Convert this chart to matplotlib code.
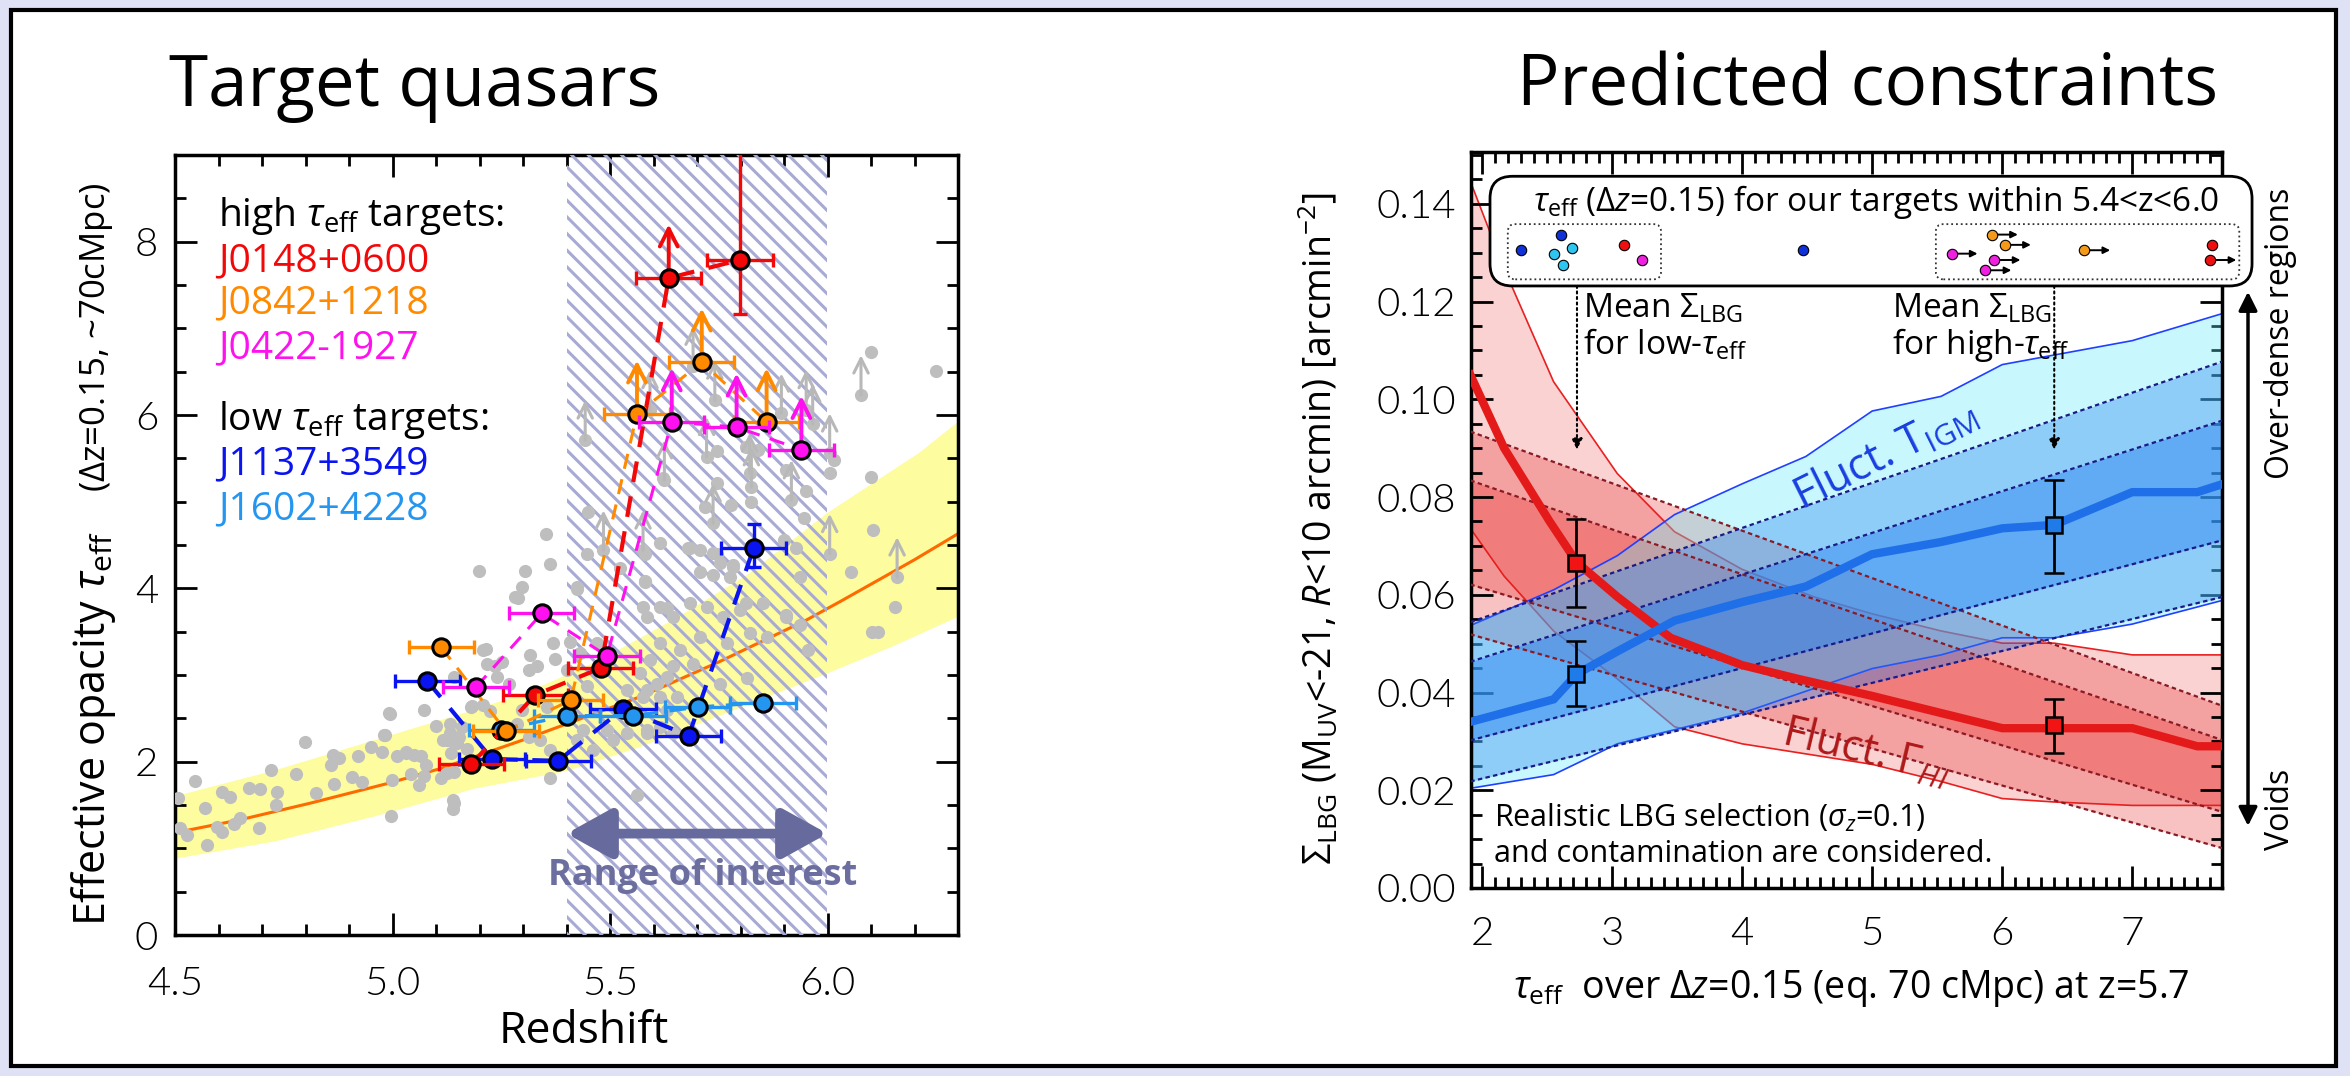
import matplotlib.pyplot as plt
from matplotlib.patches import Rectangle, FancyBboxPatch
from matplotlib.ticker import MultipleLocator, FormatStrFormatter

plt.rcParams['font.family'] = ['Open Sans', 'DejaVu Sans']
plt.rcParams['mathtext.fontset'] = 'custom'
plt.rcParams['mathtext.rm'] = 'Open Sans'
plt.rcParams['mathtext.it'] = 'Open Sans:italic'
plt.rcParams['mathtext.bf'] = 'Open Sans:bold'
plt.rcParams['hatch.color'] = '#a7aad4'
plt.rcParams['hatch.linewidth'] = 2.2

# ---------------- left panel data (redshift, tau_eff) ----------------
gray_z = [4.506, 4.546, 4.511, 4.527, 4.569, 4.573, 4.609, 4.626, 4.596, 4.607,
          4.636, 4.650, 4.670, 4.696, 4.693, 4.720, 4.733, 4.735, 4.778, 4.798,
          4.825, 4.859, 4.863, 4.878, 4.865, 4.907, 4.930, 4.920, 4.951, 4.976,
          4.980, 4.993, 4.999, 4.997, 5.011, 5.031, 5.050, 5.066, 5.072, 5.043,
          5.062, 5.077, 5.073, 5.100, 5.112, 5.115, 5.133, 5.141, 5.154, 5.142,
          5.139, 5.139, 5.135, 5.171, 5.180,
          5.209, 5.217, 5.251, 5.316, 5.332, 5.370, 5.141, 5.240, 5.267, 5.209,
          5.183, 5.225, 5.297, 5.133, 5.160, 5.125, 5.148, 5.286, 5.313, 5.339,
          5.355, 5.362, 5.125, 5.362, 5.141, 5.561, 5.569, 5.592, 5.630, 5.538,
          5.584, 5.615, 5.446, 5.439, 5.423, 5.492, 5.538, 5.508, 5.584, 5.615,
          5.645, 5.462, 5.400, 5.431, 5.469,
          5.584, 5.615, 5.645, 5.684, 5.722, 5.760, 5.798, 5.852, 5.905, 5.936,
          5.955, 5.860, 5.821, 5.768, 5.707, 5.661, 5.615, 5.645, 5.691, 5.752,
          5.814, 5.607, 5.577, 5.653, 5.630, 5.584,
          6.100, 6.249, 6.016, 6.005, 6.100, 5.951, 5.947, 6.104, 6.054, 6.156,
          5.936, 5.901, 5.928, 5.745, 5.718, 5.779, 5.825, 5.745, 5.813, 5.840,
          5.905, 5.683, 5.706, 5.745, 5.783, 5.752, 5.706, 5.737, 5.775, 5.580,
          5.615, 5.580, 5.523, 5.813, 5.630, 5.576, 5.905, 6.103, 6.117,
          5.198, 5.305, 5.352, 5.288, 5.425, 5.362, 5.448, 5.408, 5.374, 5.314,
          5.236, 5.216, 4.995, 4.982, 5.030, 5.298, 5.282, 5.424, 5.450, 5.580,
          5.622, 5.679, 5.737, 5.783]
gray_tau = [1.58, 1.78, 1.23, 1.15, 1.46, 1.04, 1.65, 1.59, 1.25, 1.19,
            1.28, 1.35, 1.70, 1.69, 1.23, 1.90, 1.50, 1.65, 1.86, 2.23,
            1.64, 1.96, 2.08, 2.04, 1.74, 1.82, 1.77, 2.06, 2.17, 2.11,
            2.31, 2.56, 1.79, 1.37, 2.07, 2.10, 2.08, 2.06, 2.60, 1.86,
            1.73, 1.96, 1.83, 2.41, 1.81, 2.25, 2.33, 2.23, 2.29, 1.88,
            1.56, 1.45, 2.10, 2.15, 2.63,
            3.29, 3.13, 3.15, 3.23, 3.10, 3.37, 2.98, 2.98, 2.90, 2.65,
            2.64, 2.58, 2.60, 2.44, 2.40, 2.25, 2.21, 2.44, 2.29, 2.25,
            2.63, 2.13, 1.87, 1.81, 1.52, 1.62, 3.02, 3.17, 2.98, 2.83,
            2.83, 2.75, 2.87, 2.37, 2.25, 2.37, 2.33, 2.25, 2.37, 2.40,
            2.33, 2.13, 3.06, 3.25, 3.37,
            3.67, 3.79, 3.67, 3.83, 3.79, 3.67, 3.75, 3.83, 3.69, 3.58,
            3.29, 3.44, 3.48, 3.37, 3.44, 3.29, 3.37, 3.10, 3.13, 2.90,
            2.96, 2.90, 2.75, 2.75, 2.60, 2.33,
            6.73, 6.51, 5.48, 5.33, 5.29, 5.12, 4.81, 4.67, 4.19, 3.79,
            4.13, 4.56, 4.46, 5.21, 4.94, 4.96, 5.00, 5.58, 5.63, 5.60,
            5.37, 4.46, 4.44, 4.40, 4.25, 4.29, 4.19, 4.15, 4.13, 4.40,
            4.52, 4.08, 4.23, 3.83, 3.77, 3.79, 3.67, 3.50, 3.50,
            4.20, 4.20, 4.63, 3.89, 3.99, 4.28, 4.40, 3.38, 3.18, 3.06,
            3.10, 3.30, 2.55, 2.31, 2.11, 4.02, 3.90, 4.02, 4.88, 4.07,
            5.27, 4.47, 4.41, 4.27]

# gray lower limits
limit_z = [5.443, 5.485, 5.576, 5.592, 5.625, 5.691, 5.722, 5.737, 5.741, 5.821,
           5.825, 5.894, 5.917, 5.951, 5.966, 6.005, 6.005, 6.077, 6.160]
limit_tau = [5.71, 4.44, 4.44, 6.06, 5.25, 6.56, 5.52, 4.75, 6.17, 5.33,
             5.17, 6.02, 5.02, 6.06, 5.90, 5.56, 4.40, 6.23, 4.13]

fit_z = [4.50, 4.65, 4.81, 4.99, 5.11, 5.30, 5.57, 5.75, 5.95, 6.03, 6.20, 6.30]
fit_tau = [1.18, 1.33, 1.52, 1.75, 1.92, 2.25, 2.75, 3.15, 3.63, 3.85, 4.33, 4.63]
band_hi_z = [4.50, 4.73, 4.96, 5.19, 5.31, 5.48, 5.65, 5.82, 6.00, 6.21, 6.30]
band_hi = [1.60, 1.90, 2.25, 2.60, 2.80, 3.18, 3.65, 4.17, 4.87, 5.56, 5.92]
band_lo_z = [4.50, 4.73, 4.96, 5.19, 5.40, 5.57, 6.00, 6.15, 6.30]
band_lo = [0.88, 1.08, 1.37, 1.69, 1.89, 2.17, 3.02, 3.33, 3.67]

red_z = [5.181, 5.328, 5.479, 5.635, 5.799]
red_tau = [1.97, 2.77, 3.08, 7.58, 7.79]
red_lim = [0, 0, 0, 1, 0]
orange_z = [5.112, 5.261, 5.410, 5.562, 5.711, 5.860]
orange_tau = [3.32, 2.35, 2.71, 6.01, 6.61, 5.92]
orange_lim = [0, 0, 0, 1, 1, 1]
magenta_z = [5.192, 5.343, 5.493, 5.642, 5.791, 5.940]
magenta_tau = [2.86, 3.71, 3.22, 5.92, 5.86, 5.60]
magenta_lim = [0, 0, 0, 1, 1, 1]
blue_z = [5.080, 5.229, 5.381, 5.530, 5.681, 5.830]
blue_tau = [2.93, 2.03, 2.01, 2.61, 2.30, 4.46]
blue_lim = [0, 0, 0, 0, 0, 0]
lblue_z = [5.250, 5.401, 5.553, 5.702, 5.852]
lblue_tau = [2.37, 2.53, 2.53, 2.63, 2.68]
lblue_lim = [0, 0, 0, 0, 0]
dz_err = 0.075

# ---------------- right panel data (tau_eff, Sigma_LBG) ----------------
gam_x = [1.91, 2.17, 2.52, 2.73, 3.04, 3.45, 4.0, 4.43, 5.0, 5.53, 6.0, 6.4, 7.0, 7.5, 7.7]
gam_y = [0.105, 0.090, 0.075, 0.0666, 0.0596, 0.0512, 0.0456, 0.0428, 0.0393,
         0.0358, 0.0327, 0.0327, 0.0327, 0.029, 0.029]
gam_hi_x = [1.91, 2.17, 2.55, 3.04, 3.48, 4.0, 4.55, 5.0, 5.53, 6.0, 6.4, 7.0, 7.7]
gam_hi = [0.1446, 0.1267, 0.1036, 0.0848, 0.0729, 0.0652, 0.0596, 0.0561, 0.0526,
          0.0501, 0.0501, 0.0477, 0.0477]
gam_lo_x = [1.91, 2.17, 2.55, 3.04, 3.48, 4.0, 5.0, 5.53, 6.0, 6.4, 7.0, 7.7]
gam_lo = [0.0736, 0.0638, 0.0526, 0.0428, 0.0330, 0.0295, 0.0253, 0.0218, 0.0183,
          0.0176, 0.0169, 0.0169]

tigm_x = [1.91, 2.55, 2.73, 3.04, 3.48, 4.0, 4.49, 5.0, 5.53, 6.0, 6.4, 7.0, 7.5, 7.7]
tigm_y = [0.034, 0.0386, 0.0438, 0.0484, 0.0547, 0.0585, 0.0617, 0.0683, 0.0708,
          0.0736, 0.0743, 0.081, 0.081, 0.0827]
tigm_hi_x = [1.91, 2.55, 3.04, 3.48, 4.0, 4.49, 5.0, 5.53, 6.0, 7.0, 7.7]
tigm_hi = [0.0537, 0.061, 0.068, 0.0764, 0.0827, 0.0883, 0.0976, 0.1006, 0.1071,
           0.112, 0.1176]
tigm_lo_x = [1.91, 2.55, 3.04, 4.0, 5.0, 5.53, 6.0, 6.4, 7.0, 7.7]
tigm_lo = [0.0204, 0.0232, 0.0295, 0.0358, 0.0449, 0.0477, 0.0512, 0.0512, 0.054, 0.0589]

# straight dashed error lines, values at the left and right edge
edge_x = [1.91, 7.7]
gam_dash_left = [0.0934, 0.0834, 0.0621, 0.0519]
gam_dash_right = [0.0372, 0.0302, 0.0155, 0.0081]
tigm_dash_left = [0.0544, 0.0463, 0.0302, 0.0218]
tigm_dash_right = [0.1078, 0.0957, 0.0712, 0.0596]

sq_x = [2.72, 6.40, 2.72, 6.40]
sq_y = [0.0666, 0.0333, 0.0438, 0.0743]
sq_lo = [0.0575, 0.0277, 0.0373, 0.0645]
sq_hi = [0.0755, 0.0386, 0.0506, 0.0834]
sq_col = ['#f21414', '#f21414', '#1f7be8', '#1f7be8']

ins_tau = [2.30, 2.61, 2.55, 2.69, 2.62, 3.09, 3.23, 4.47,
           5.61, 5.92, 6.02, 5.94, 5.87, 6.63, 7.61, 7.60]
ins_y = [0.1305, 0.1337, 0.1298, 0.1309, 0.1274, 0.1316, 0.1285, 0.1305,
         0.1298, 0.1337, 0.1316, 0.1285, 0.1264, 0.1305, 0.1316, 0.1285]
ins_col = ['#1030d8', '#1030d8', '#2ec6f0', '#2ec6f0', '#2ec6f0', '#ee1010', '#f020e0', '#1030d8',
           '#f020e0', '#f39a1a', '#f39a1a', '#f020e0', '#f020e0', '#f39a1a', '#ee1010', '#ee1010']
ins_lim = [0, 0, 0, 0, 0, 0, 0, 0, 1, 1, 1, 1, 1, 1, 0, 1]

W, H = 2350, 1076
fig = plt.figure(figsize=(23.5, 10.76), dpi=100)
fig.patch.set_facecolor('#dfe1f5')
fig.add_artist(Rectangle((11 / W, 1 - 1066 / H), 2325 / W, 1056 / H, transform=fig.transFigure,
                         facecolor='white', edgecolor='black', lw=3, zorder=-5))

fig.text(169 / W, 1 - 106 / H, 'Target quasars', fontsize=51, va='baseline', ha='left')
fig.text(2218 / W, 1 - 106 / H, 'Predicted constraints', fontsize=51, va='baseline', ha='right')

ax1 = fig.add_axes([175 / W, 1 - 935 / H, 783 / W, 780 / H])
ax2 = fig.add_axes([1471 / W, 1 - 888 / H, 751 / W, 736 / H])


def style_axes(ax, xmaj, xmin, ymaj, ymin, xpad, ypad):
    ax.xaxis.set_major_locator(MultipleLocator(xmaj))
    ax.xaxis.set_minor_locator(MultipleLocator(xmin))
    ax.yaxis.set_major_locator(MultipleLocator(ymaj))
    ax.yaxis.set_minor_locator(MultipleLocator(ymin))
    ax.tick_params(which='both', direction='in', top=True, right=True, width=2,
                   labelsize=29, labelfontfamily='Lato')
    ax.tick_params(which='major', length=16)
    ax.tick_params(which='minor', length=8)
    ax.tick_params(axis='x', pad=xpad)
    ax.tick_params(axis='y', pad=ypad)
    for s in ax.spines.values():
        s.set_linewidth(2.5)


# ================= left panel =================
ax1.set_xlim(4.5, 6.3)
ax1.set_ylim(0, 9)
style_axes(ax1, 0.5, 0.1, 2, 0.5, 22, 12)
ax1.xaxis.set_major_formatter(FormatStrFormatter('%.1f'))

ax1.fill(band_hi_z + band_lo_z[::-1], band_hi + band_lo[::-1], color='#fdfc9e', lw=0, zorder=1)
ax1.plot(fit_z, fit_tau, color='#ff6a00', lw=2.2, zorder=2)
ax1.axvspan(5.4, 6.0, facecolor='none', edgecolor='#a7aad4', hatch='\\\\', lw=0, zorder=3)

ax1.scatter(gray_z, gray_tau, s=90, c='#bebebe', lw=0, zorder=4)
ax1.scatter(limit_z, limit_tau, s=90, c='#bebebe', lw=0, zorder=4)
for z, t in zip(limit_z, limit_tau):
    ax1.annotate('', xy=(z, t + 0.46), xytext=(z, t),
                 arrowprops=dict(arrowstyle='->', color='#b8b8b8', lw=2.2,
                                 mutation_scale=26, shrinkA=0, shrinkB=0), zorder=4)


def draw_target(z, tau, lim, color, lw, order, yerr=None):
    ax1.plot(z, tau, color=color, lw=lw, dashes=(5, 3.5), zorder=order)
    ax1.errorbar(z, tau, xerr=dz_err, yerr=yerr, fmt='none', ecolor=color,
                 elinewidth=2.4, capsize=5, capthick=2.4, zorder=order + 0.1)
    for zz, tt, ll in zip(z, tau, lim):
        if ll:
            ax1.annotate('', xy=(zz, tt + 0.62), xytext=(zz, tt),
                         arrowprops=dict(arrowstyle='->', color=color, lw=2.8,
                                         mutation_scale=32, shrinkA=0, shrinkB=0),
                         zorder=order + 0.1)
    ax1.plot(z, tau, 'o', ms=12.5, mfc=color, mec='black', mew=2.2, zorder=order + 0.2)


draw_target(blue_z, blue_tau, blue_lim, '#0a14f0', 3.0, 5,
            yerr=[[0, 0, 0, 0, 0, 0.21], [0, 0, 0, 0, 0, 0.28]])
draw_target(lblue_z, lblue_tau, lblue_lim, '#2596f0', 2.4, 5.5)
draw_target(red_z, red_tau, red_lim, '#f20808', 3.0, 6,
            yerr=[[0, 0, 0, 0, 0.62], [0, 0, 0, 0, 2.5]])
draw_target(orange_z, orange_tau, orange_lim, '#ff8a00', 2.2, 6.5)
draw_target(magenta_z, magenta_tau, magenta_lim, '#ff10ee', 2.2, 7)

ax1.annotate('', xy=(5.40, 1.17), xytext=(6.0, 1.17),
             arrowprops=dict(arrowstyle='<|-|>,head_length=0.9,head_width=0.5',
                             color='#676a9c', lw=7, mutation_scale=30, shrinkA=0, shrinkB=0),
             zorder=8)
ax1.text(5.712, 0.58, 'Range of interest', ha='center', va='baseline', fontsize=26,
         fontweight='bold', color='#6b6e9f', zorder=8)

legend_lines = [(r'high $\tau_{\rm eff}$ targets:', 'black', 8.18),
                ('J0148+0600', '#f20808', 7.66),
                ('J0842+1218', '#ff8a00', 7.17),
                ('J0422-1927', '#ff10ee', 6.65),
                (r'low $\tau_{\rm eff}$ targets:', 'black', 5.83),
                ('J1137+3549', '#0a14f0', 5.31),
                ('J1602+4228', '#2596f0', 4.79)]
for txt, col, yy in legend_lines:
    ax1.text(4.599, yy, txt, color=col, fontsize=28, va='baseline', ha='left', zorder=9)

fig.text(584 / W, 1 - 1043 / H, 'Redshift', fontsize=32, ha='center', va='baseline')
fig.text(105 / W, 1 - 926 / H, r'Effective opacity $\tau_{\rm eff}$', fontsize=31,
         rotation=90, rotation_mode='anchor', ha='left', va='baseline')
fig.text(105 / W, 1 - 492 / H, r'($\Delta$z=0.15, ~70cMpc)', fontsize=25,
         rotation=90, rotation_mode='anchor', ha='left', va='baseline')

# ================= right panel =================
ax2.set_xlim(1.915, 7.69)
ax2.set_ylim(0, 0.1506)
style_axes(ax2, 1, 0.1, 0.02, 0.005, 20, 11)
ax2.yaxis.set_major_formatter(FormatStrFormatter('%.2f'))

# outer model bands
ax2.fill(gam_hi_x + gam_lo_x[::-1], gam_hi + gam_lo[::-1], color='#e61e1e', alpha=0.2, lw=0, zorder=1)
ax2.plot(gam_hi_x, gam_hi, color='#e82020', lw=1.2, zorder=1.1)
ax2.plot(gam_lo_x, gam_lo, color='#e82020', lw=1.2, zorder=1.1)

# straight error bands (red)
ax2.fill_between(edge_x, [gam_dash_left[0], gam_dash_right[0]], [gam_dash_left[3], gam_dash_right[3]],
                 color='#e61e1e', alpha=0.27, lw=0, zorder=1.2)
ax2.fill_between(edge_x, [gam_dash_left[1], gam_dash_right[1]], [gam_dash_left[2], gam_dash_right[2]],
                 color='#e61e1e', alpha=0.28, lw=0, zorder=1.3)

ax2.fill(tigm_hi_x + tigm_lo_x[::-1], tigm_hi + tigm_lo[::-1], color='#64ebfa', alpha=0.35, lw=0, zorder=2)
ax2.plot(tigm_hi_x, tigm_hi, color='#2040ff', lw=1.2, zorder=2.1)
ax2.plot(tigm_lo_x, tigm_lo, color='#2040ff', lw=1.2, zorder=2.1)
ax2.fill_between(edge_x, [tigm_dash_left[0], tigm_dash_right[0]], [tigm_dash_left[3], tigm_dash_right[3]],
                 color='#2882f0', alpha=0.36, lw=0, zorder=2.2)
ax2.fill_between(edge_x, [tigm_dash_left[1], tigm_dash_right[1]], [tigm_dash_left[2], tigm_dash_right[2]],
                 color='#2882f0', alpha=0.45, lw=0, zorder=2.3)

for yl, yr in zip(gam_dash_left, gam_dash_right):
    ax2.plot(edge_x, [yl, yr], color='#8a1a24', lw=1.6, dashes=(2, 1.5), zorder=3)
for yl, yr in zip(tigm_dash_left, tigm_dash_right):
    ax2.plot(edge_x, [yl, yr], color='#1a1a88', lw=1.6, dashes=(2, 1.5), zorder=3)

ax2.plot(gam_x, gam_y, color='#e41a1a', lw=6, zorder=4, solid_joinstyle='miter')
ax2.plot(tigm_x, tigm_y, color='#1f6fe8', lw=6, zorder=4.1, solid_joinstyle='miter')

for x, y, lo, hi, c in zip(sq_x, sq_y, sq_lo, sq_hi, sq_col):
    ax2.errorbar([x], [y], yerr=[[y - lo], [hi - y]], fmt='s', ms=12, mfc=c, mec='black',
                 mew=1.8, ecolor='black', elinewidth=2, capsize=7, capthick=2, zorder=5)

ax2.text(4.46, 0.0771, r'Fluct. T$_{\rm IGM}$', color='#1a3fe0', fontsize=31, rotation=26.5,
         rotation_mode='anchor', ha='left', va='baseline', zorder=6)
ax2.text(4.29, 0.0295, r'Fluct. $\Gamma_{HI}$', color='#b01818', fontsize=31, rotation=-13.5,
         rotation_mode='anchor', ha='left', va='baseline', zorder=6)
ax2.text(2.09, 0.01245, r'Realistic LBG selection ($\sigma_z$=0.1)', fontsize=22,
         ha='left', va='baseline', zorder=6)
ax2.text(2.09, 0.0053, 'and contamination are considered.', fontsize=22,
         ha='left', va='baseline', zorder=6)

# inset box with target tau_eff values
ax2.add_patch(FancyBboxPatch((0.0253, 0.818), 1.040 - 0.0253, 0.967 - 0.818,
                             boxstyle='round,pad=0,rounding_size=0.03', transform=ax2.transAxes,
                             facecolor='white', edgecolor='black', lw=2, zorder=10, clip_on=False))
for x0, x1 in [(0.049, 0.253), (0.619, 1.023)]:
    ax2.add_patch(FancyBboxPatch((x0, 0.827), x1 - x0, 0.902 - 0.827,
                                 boxstyle='round,pad=0,rounding_size=0.01', transform=ax2.transAxes,
                                 facecolor='none', edgecolor='#333333', lw=1.3, ls=':',
                                 zorder=11, clip_on=False))
ax2.text(5.03, 0.1386, r'$\tau_{\rm eff}$ ($\Delta z$=0.15) for our targets within 5.4<z<6.0',
         fontsize=24, ha='center', va='baseline', zorder=12, clip_on=False)
for x, y, c, l in zip(ins_tau, ins_y, ins_col, ins_lim):
    if l:
        ax2.annotate('', xy=(x + 0.2, y), xytext=(x, y), annotation_clip=False,
                     arrowprops=dict(arrowstyle='-|>', color='black', lw=1.4,
                                     mutation_scale=10, shrinkA=0, shrinkB=0), zorder=12)
    ax2.plot(x, y, 'o', ms=7.5, mfc=c, mec='black', mew=0.8, zorder=13, clip_on=False)

for x, x_txt, lab in [(2.73, 2.78, 'low'), (6.40, 5.154, 'high')]:
    ax2.annotate('', xy=(x, 0.0897), xytext=(x, 0.1232),
                 arrowprops=dict(arrowstyle='-|>', color='black', lw=1.5, ls=':',
                                 mutation_scale=16, shrinkA=0, shrinkB=0), zorder=7)
    ax2.text(x_txt, 0.1167, r'Mean $\Sigma_{\rm LBG}$', fontsize=24, ha='left', va='baseline', zorder=7)
    ax2.text(x_txt, 0.1092, 'for ' + lab + r'-$\tau_{\rm eff}$', fontsize=24, ha='left',
             va='baseline', zorder=7)

ax2.annotate('', xy=(7.89, 0.122), xytext=(7.89, 0.0127), annotation_clip=False,
             arrowprops=dict(arrowstyle='<|-|>', color='black', lw=2.5, mutation_scale=28,
                             shrinkA=0, shrinkB=0))
ax2.text(8.14, 0.1136, 'Over-dense regions', fontsize=23, rotation=90, ha='center',
         va='center', clip_on=False)
ax2.text(8.14, 0.016, 'Voids', fontsize=23, rotation=90, ha='center', va='center', clip_on=False)

fig.text(1332 / W, 1 - 865 / H, r'$\Sigma_{\rm LBG}$ (M$_{\rm UV}$<-21, $R$<10 arcmin) [arcmin$^{-2}$]',
         fontsize=27, rotation=90, rotation_mode='anchor', ha='left', va='baseline')
fig.text(1851 / W, 1 - 998 / H, r'$\tau_{\rm eff}$  over $\Delta z$=0.15 (eq. 70 cMpc) at z=5.7',
         fontsize=27, ha='center', va='baseline')

# thin (but not hairline) tick labels
fig.canvas.draw()
for ax in (ax1, ax2):
    for lab in ax.get_xticklabels() + ax.get_yticklabels():
        lab.set_fontweight(300)

fig.savefig('out.png', dpi=100, facecolor=fig.get_facecolor())
